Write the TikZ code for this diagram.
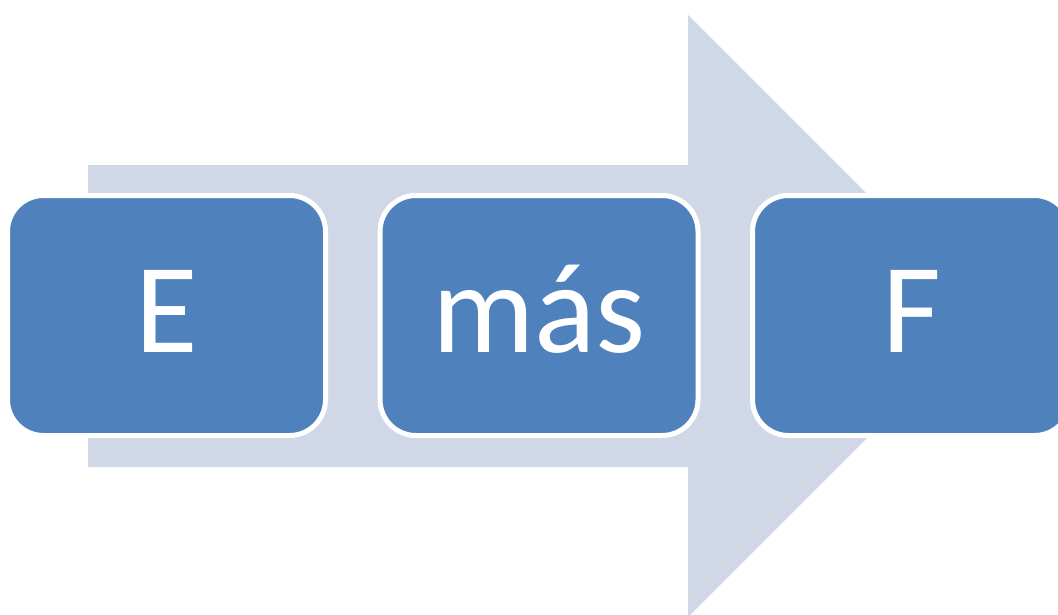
\documentclass[tikz,border=0pt]{standalone}
\usepackage{fontspec}
\setsansfont{Carlito}
\usepackage{xcolor}
\usetikzlibrary{
    shapes,
    positioning,
    calc
}
\definecolor{arrowgray}{HTML}{D0D8E8}
\definecolor{boxblue}{HTML}{4F81BD}
\tikzset{%
    % Specifications for style of nodes:
    plain/.style = {},
    base/.style = {
        plain,
        rectangle, rounded corners=36pt, draw=white, line width=5pt,
        minimum width=318pt, minimum height=240pt, inner sep=0pt, outer sep=0pt,
        text height=73pt, text depth=0pt,
        text centered, font=\sffamily\fontsize{128}{128}\selectfont,
        fill=boxblue, text=white, align=center
    },
    step-box/.style = {base}
}

\begin{document}
\begin{tikzpicture}[x=1pt, y=-1pt, node distance=54.5pt]
    \useasboundingbox (0,0) rectangle (1058,614);
    % big arrow behind the boxes
    \fill[arrowgray] (88,165) -- (688,165) -- (688,15) -- (989,316)
        -- (688,617) -- (688,467) -- (88,467) -- cycle;
    \node[step-box] (e) at (166.5,315.5) {E};
    \node[step-box, right=of e] (mas) {más};
    \node[step-box, right=of mas] (f) {F};
\end{tikzpicture}
\end{document}
